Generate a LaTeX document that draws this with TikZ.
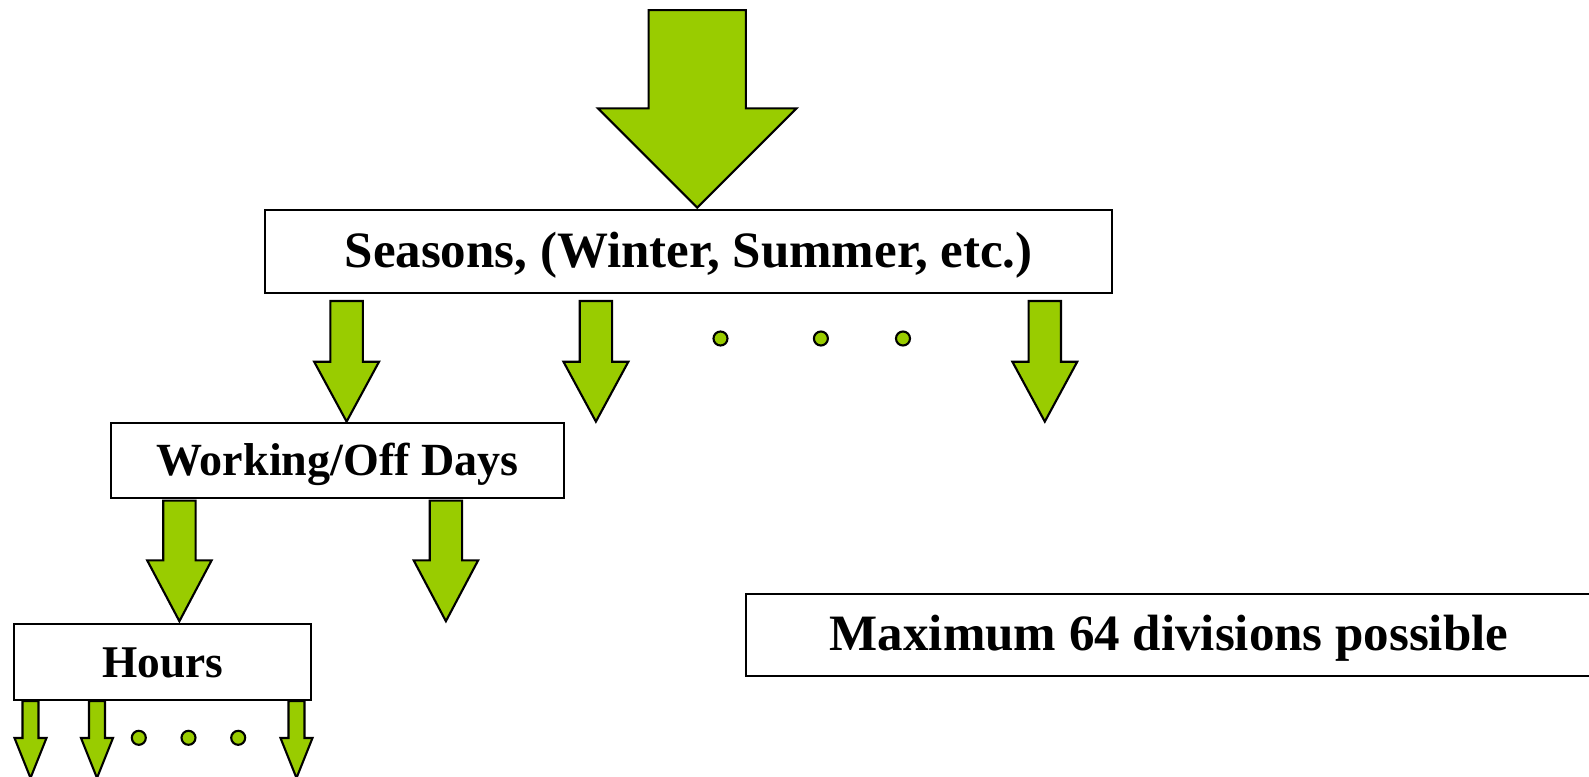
\documentclass[tikz,border=0pt]{standalone}
\usepackage{fontspec}
\setmainfont{Liberation Serif}
\definecolor{leafgreen}{RGB}{153,204,0}
% block arrow: centre x, top y, head base y, tip y, half shaft, half head
\newcommand{\garrow}[6]{%
\draw[arrowfill] (#1-#5,#2) -- (#1+#5,#2) -- (#1+#5,#3) -- (#1+#6,#3) -- (#1,#4)
  -- (#1-#6,#3) -- (#1-#5,#3) -- cycle;}
\begin{document}
\begin{tikzpicture}[x=0.01cm,y=-0.01cm,
  arrowfill/.style={fill=leafgreen,draw=black,line width=0.6pt,line join=miter},
  dot/.style={circle,fill=leafgreen,draw=black,line width=0.6pt,minimum size=0.14cm,inner sep=0pt},
  box/.style={draw=black,fill=white,line width=0.6pt,inner sep=0pt,text height=0.9em,text depth=0pt}]
\useasboundingbox (0,0) rectangle (1589,776);
\garrow{697.2}{10.1}{108.4}{207.7}{48.6}{99.3}
\node[box,minimum width=8.46cm,minimum height=0.83cm,font=\bfseries\fontsize{14.5}{17}\selectfont] (seasons) at (688.6,251.3) {Seasons, (Winter, Summer, etc.)};
\garrow{346.6}{301}{361.8}{421.6}{16.2}{32.4}
\garrow{595.9}{301}{361.8}{421.6}{16.2}{32.4}
\garrow{1044.8}{301}{361.8}{421.6}{16.2}{32.4}
\node[dot] (s1) at (720.5,338.5) {};
\node[dot] (s2) at (820.9,338.5) {};
\node[dot] (s3) at (903,338.5) {};
\node[box,minimum width=4.52cm,minimum height=0.75cm,font=\bfseries\fontsize{13.1}{15}\selectfont] (days) at (337.5,460.1) {Working/Off Days};
\garrow{179.4}{500.6}{560.4}{621.2}{16.2}{32.2}
\garrow{445.9}{500.6}{560.4}{621.2}{16.2}{32.2}
\node[box,minimum width=2.97cm,minimum height=0.76cm,font=\bfseries\fontsize{12.9}{15}\selectfont] (hours) at (162.6,662) {Hours};
\garrow{30.5}{701}{738}{778}{8}{16}
\garrow{97}{701}{738}{778}{8}{16}
\garrow{296.5}{701}{738}{778}{8}{16}
\node[dot] (h1) at (138.8,737.8) {};
\node[dot] (h2) at (188.5,737.8) {};
\node[dot] (h3) at (238.2,737.8) {};
\node[box,minimum width=8.46cm,minimum height=0.82cm,font=\bfseries\fontsize{14.5}{17}\selectfont] (maxdiv) at (1169,635) {Maximum 64 divisions possible};
\end{tikzpicture}
\end{document}
